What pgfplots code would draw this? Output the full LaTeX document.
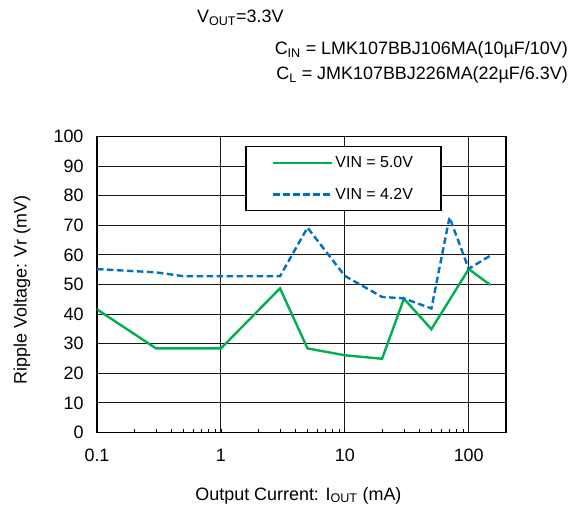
\documentclass[border=0pt]{standalone}
\usepackage{fontspec}
\setmainfont{Liberation Sans}
\usepackage{pgfplots}
\pgfplotsset{compat=1.18}
\definecolor{cgreen}{HTML}{00B050}
\definecolor{cblue}{HTML}{0070C0}
\newcommand{\fs}[1]{\fontsize{#1}{#1}\selectfont}
\begin{document}
\begin{tikzpicture}
\useasboundingbox (-97bp,-73.5bp) rectangle (475bp,432.5bp);
\begin{axis}[
  at={(0,0)}, anchor=south west,
  scale only axis, width=409bp, height=296bp,
  xmode=log, xmin=0.1, xmax=200, ymin=0, ymax=100,
  xtick={0.1,1,10,100}, xticklabels={0.1,1,10,100},
  ytick={0,10,...,100},
  /pgf/number format/assume math mode=true,
  ticklabel style={font=\fs{18}},
  xticklabel style={yshift=-13bp},
  yticklabel style={xshift=-10bp},
  tick align=inside, xtick pos=left, ytick pos=left,
  major tick length=0bp, minor tick length=4bp,
  minor tick style={black, line width=0.8bp},
  grid=major, major grid style={black!90, line width=1bp},
  axis line style={black, line width=1.4bp},
  xlabel={Output Current: I\textsubscript{OUT} (mA)},
  ylabel={Ripple Voltage: Vr (mV)},
  label style={font=\fs{18}},
  xlabel style={at={(axis description cs:0.4925,0)}, anchor=center, yshift=-63bp},
  ylabel style={at={(axis description cs:-0.1834,0.481)}, anchor=center},
  legend style={at={(0.3626,0.969)}, anchor=north west, draw=black, line width=1.5bp,
    font=\fs{16}, inner xsep=26bp, inner ysep=8bp, row sep=15bp,
    /tikz/every even column/.append style={column sep=7bp}},
  legend cell align=left,
  legend image code/.code={\draw[#1] (0bp,0bp) -- (59bp,0bp);},
]
\addplot[cgreen, line width=2.4bp] coordinates {
(0.1,41.6)(0.3,28.4)(1,28.4)(3,48.7)(5,28.4)(10,26.1)(20,24.9)(30,45.2)(50,34.9)(100,55.2)(150,49.8)};
\addlegendentry{VIN = 5.0V}
\addplot[cblue, line width=2.4bp, dash pattern=on 6.5bp off 3.5bp] coordinates {
(0.1,55.2)(0.3,54.1)(0.5,52.8)(1,52.8)(3,52.8)(5,69.2)(10,52.9)(20,45.8)(30,45.3)(50,41.9)(70,72.7)(100,55.3)(150,59.8)};
\addlegendentry{VIN = 4.2V}
\end{axis}
\node[anchor=west, font=\fs{18}, inner sep=0pt] at (100bp,414.5bp) {V\textsubscript{OUT}=3.3V};
\node[anchor=east, font=\fs{18}, inner sep=0pt] at (471bp,382.5bp) {C\textsubscript{IN} = LMK107BBJ106MA(10µF/10V)};
\node[anchor=east, font=\fs{18}, inner sep=0pt] at (471bp,357.5bp) {C\textsubscript{L} = JMK107BBJ226MA(22µF/6.3V)};
\end{tikzpicture}
\end{document}
